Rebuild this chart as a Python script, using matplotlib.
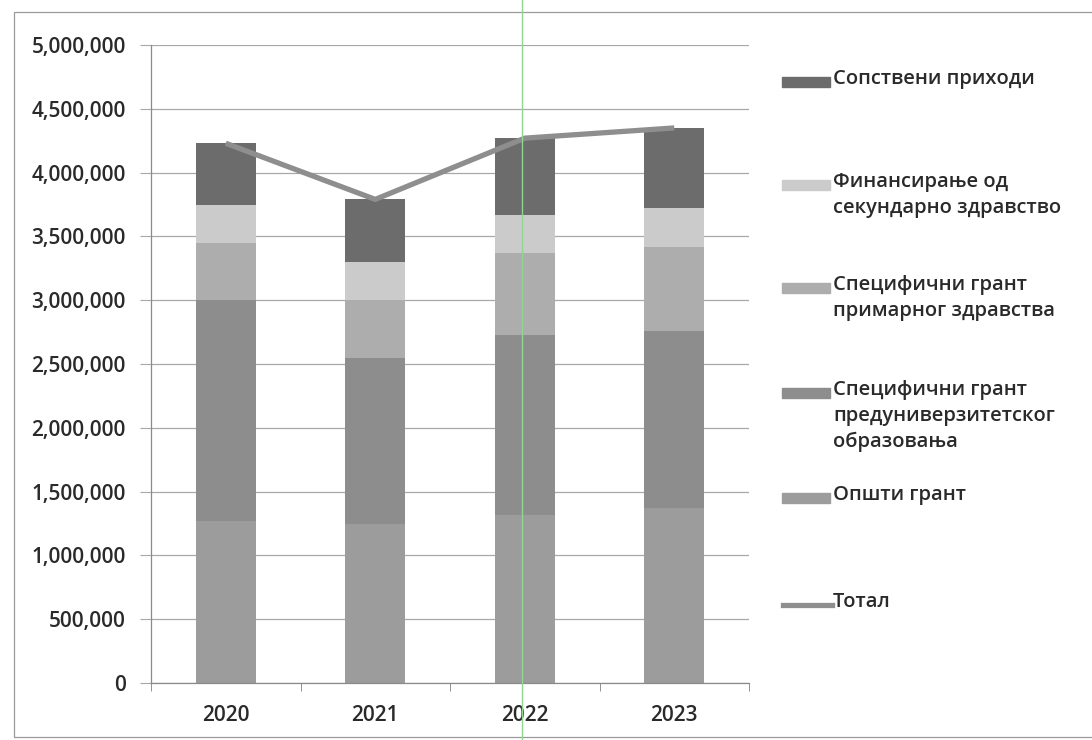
import matplotlib
matplotlib.use("Agg")
import matplotlib.pyplot as plt
from matplotlib.patches import Rectangle
from matplotlib.lines import Line2D
from matplotlib.ticker import FuncFormatter, MultipleLocator
import numpy as np

plt.rcParams['font.family'] = ['Open Sans', 'DejaVu Sans']
plt.rcParams['font.weight'] = 600

years = ['2020', '2021', '2022', '2023']
opshti_grant = [1270000, 1250000, 1320000, 1370000]
grant_obrazovanje = [1730000, 1300000, 1410000, 1390000]
grant_primarno = [450000, 450000, 640000, 660000]
sekundarno = [300000, 300000, 300000, 300000]
sopstveni = [480000, 490000, 600000, 630000]

series = [opshti_grant, grant_obrazovanje, grant_primarno, sekundarno, sopstveni]
labels = ['Општи грант',
          'Специфични грант\nпредуниверзитетског\nобразовања',
          'Специфични грант\nпримарног здравства',
          'Финансирање од\nсекундарно здравство',
          'Сопствени приходи']
colors = ['#9c9c9c', '#8d8d8d', '#adadad', '#cbcbcb', '#6c6c6c']
total = np.sum(np.array(series), axis=0)

W, H = 1092, 740
fig = plt.figure(figsize=(W / 100, H / 100), dpi=100)
fig.patch.set_facecolor('white')
ax = fig.add_axes([151 / W, 1 - 683 / H, (749 - 151) / W, (683 - 45) / H])

x = np.arange(len(years))
bottom = np.zeros(len(years))
for vals, c in zip(series, colors):
    ax.bar(x, vals, width=0.4, bottom=bottom, color=c, edgecolor='none', zorder=2)
    bottom += np.array(vals)

ax.plot(x, total, color='#8e8e8e', lw=3.8, solid_capstyle='butt', zorder=3)

ax.set_xlim(-0.5, 3.5)
ax.set_ylim(0, 5000000)
ax.yaxis.set_major_locator(MultipleLocator(500000))
ax.yaxis.set_major_formatter(FuncFormatter(lambda v, p: f'{int(v):,}'))
ax.grid(axis='y', color='#a8a8a8', lw=0.9, zorder=0)
ax.set_xticks(x)
ax.set_xticklabels(years)
ax.set_xticks(np.arange(-0.5, 4.0, 1.0), minor=True)
ax.tick_params(axis='x', which='major', length=0, pad=16, labelsize=15, labelcolor='#2a2a2a')
ax.tick_params(axis='x', which='minor', length=6, color='#808080', direction='out')
ax.tick_params(axis='y', length=8, color='#a8a8a8', pad=10, labelsize=15, labelcolor='#2a2a2a')
for s in ['top', 'right']:
    ax.spines[s].set_visible(False)
ax.spines['left'].set_color('#8a8a8a')
ax.spines['bottom'].set_color('#8a8a8a')
ax.spines['left'].set_linewidth(0.9)
ax.spines['bottom'].set_linewidth(0.9)

# legend (manual, reversed order)
leg_y = [82, 185, 288, 393, 498]
order = [4, 3, 2, 1, 0]
for yy, i in zip(leg_y, order):
    fig.patches.append(Rectangle((782 / W, 1 - (yy + 5) / H), 48 / W, 10 / H,
                                 transform=fig.transFigure, color=colors[i]))
    fig.text(833 / W, 1 - (yy - 13) / H, labels[i], fontsize=14.5, color='#2a2a2a',
             va='top', ha='left', linespacing=1.38)
fig.lines.append(Line2D([783 / W, 832 / W], [1 - 605 / H, 1 - 605 / H],
                        transform=fig.transFigure, color='#8e8e8e', lw=3.8))
fig.text(833 / W, 1 - (605 - 13) / H, 'Тотал', fontsize=14.5, color='#2a2a2a',
         va='top', ha='left')

# outer chart border
fig.patches.append(Rectangle((14 / W, 1 - 737 / H), (W + 10 - 14) / W, (737 - 12) / H,
                             transform=fig.transFigure, fill=False,
                             edgecolor='#9a9a9a', lw=0.9))
# scan artifact line
fig.lines.append(Line2D([522 / W, 522 / W], [0, 1], transform=fig.transFigure,
                        color='#8fd68f', lw=1.0))

fig.savefig('out.png', dpi=100, facecolor='white')
